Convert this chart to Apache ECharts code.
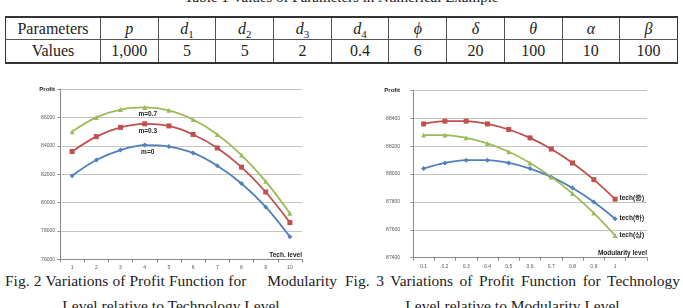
<!DOCTYPE html>
<html>
<head>
<meta charset="utf-8">
<script src="https://cdn.jsdelivr.net/npm/echarts@6/dist/echarts.min.js"></script>
<style>
    html, body { margin: 0; padding: 0; background: #fff; }
    body { width: 683px; height: 308px; position: relative; overflow: hidden; font-family: 'Liberation Serif', serif; color: #222; }
    .ttl { position: absolute; left: 0; top: -11px; width: 683px; text-align: center; font-size: 15px; }
    table.params { position: absolute; left: 5px; top: 16px; width: 673px; border-collapse: collapse; font-size: 16px;
        border-top: 2px solid #333; border-bottom: 2px solid #333; table-layout: fixed; }
    table.params td { border-left: 1px solid #555; border-right: 1px solid #555; text-align: center; padding: 0; line-height: 20px; }
    table.params tr:first-child td { border-bottom: 1px solid #555; height: 21px; }
    table.params tr:last-child td { height: 22px; }
    table.params td:first-child { border-left: 1px solid #333; width: 94px; }
    table.params td:last-child { border-right: 1px solid #333; }
    table.params sub { font-size: 11px; line-height: 0; }
    .cap { position: absolute; font-size: 15.5px; line-height: 20px; }
    .cap .l1 { text-align: justify; text-align-last: justify; white-space: nowrap; }
    .cap .l2 { text-align: center; margin-top: 5px; }
    #chart { position: absolute; left: 0; top: 0; width: 683px; height: 308px; }
</style>
</head>
<body>
<div class="ttl">Table 1 Values of Parameters in Numerical Example</div>
<table class="params">
    <tr>
        <td>Parameters</td><td><i>p</i></td><td><i>d</i><sub>1</sub></td><td><i>d</i><sub>2</sub></td>
        <td><i>d</i><sub>3</sub></td><td><i>d</i><sub>4</sub></td><td><i>ϕ</i></td><td><i>δ</i></td>
        <td><i>θ</i></td><td><i>α</i></td><td><i>β</i></td>
    </tr>
    <tr>
        <td>Values</td><td>1,000</td><td>5</td><td>5</td><td>2</td><td>0.4</td><td>6</td><td>20</td><td>100</td><td>10</td><td>100</td>
    </tr>
</table>
<div class="cap" style="left:5px;top:271px;width:332px;">
    <div class="l1">Fig. 2 Variations of Profit Function for&nbsp;&nbsp;&nbsp;&nbsp; Modularity</div>
    <div class="l2">Level relative to Technology Level</div>
</div>
<div class="cap" style="left:345px;top:271px;width:335px;">
    <div class="l1">Fig. 3 Variations of Profit Function for Technology</div>
    <div class="l2">Level relative to Modularity Level</div>
</div>
<div id="chart"></div>
<script type="text/javascript">
    // Fig. 2 : profit by technology level
    var techLevels = ['1', '2', '3', '4', '5', '6', '7', '8', '9', '10'];
    var profitM0  = [81900, 83000, 83700, 84050, 83950, 83500, 82600, 81350, 79700, 77600];
    var profitM03 = [83600, 84650, 85300, 85550, 85400, 84800, 83850, 82500, 80750, 78600];
    var profitM07 = [85000, 86000, 86550, 86700, 86500, 85850, 84800, 83350, 81500, 79250];
    var mNames = ['m=0', 'm=0.3', 'm=0.7'];

    // Fig. 3 : profit by modularity level (last category is an empty slot)
    var modLevels = ['0.1', '0.2', '0.3', '0.4', '0.5', '0.6', '0.7', '0.8', '0.9', '1', ''];
    var profitTechLow  = [88040, 88080, 88100, 88100, 88080, 88040, 87980, 87900, 87800, 87680];
    var profitTechMid  = [88360, 88380, 88380, 88360, 88320, 88260, 88180, 88080, 87960, 87820];
    var profitTechHigh = [88280, 88280, 88260, 88220, 88160, 88080, 87980, 87860, 87720, 87560];
    var techNames = ['tech(하)', 'tech(중)', 'tech(상)'];

    var blue = '#4F81BD', red = '#C0504D', green = '#9BBB59';
    var fontS = 'Liberation Sans';

    // put a label on one point of a series
    function withLabel(arr, idx, text, pos, offset) {
        return arr.map(function (v, i) {
            if (i !== idx) return v;
            return {
                value: v,
                label: {
                    show: true, formatter: text, position: pos, distance: 1, offset: offset || [0, 0],
                    fontFamily: fontS, fontSize: 6.5, fontWeight: 'bold', color: '#222'
                }
            };
        });
    }

    function yAxisFor(idx, min, max, step, margin) {
        return {
            gridIndex: idx, type: 'value', min: min, max: max, interval: step,
            axisLine: { show: true, lineStyle: { color: '#8a8a8a', width: 1 } },
            axisTick: { show: true, length: 2.5, lineStyle: { color: '#8a8a8a' } },
            splitLine: { lineStyle: { color: '#c4c4c4', width: 1 } },
            axisLabel: {
                margin: margin, fontFamily: fontS, fontSize: 5, color: '#555',
                formatter: function (v) { return v === max ? '{b|Profit}' : String(v); },
                rich: { b: { fontFamily: fontS, fontSize: 6, fontWeight: 'bold', color: '#222' } }
            }
        };
    }

    function xAxisFor(idx, cats, name) {
        return {
            gridIndex: idx, type: 'category', data: cats, boundaryGap: true,
            name: name, nameLocation: 'end', nameGap: 0,
            nameTextStyle: { fontFamily: fontS, fontSize: 6.5, fontWeight: 'bold', color: '#222',
                align: 'right', verticalAlign: 'bottom', padding: [0, 0, 1, 0] },
            axisLine: { show: true, lineStyle: { color: '#8a8a8a', width: 1 } },
            axisTick: { show: true, length: 3, lineStyle: { color: '#8a8a8a' } },
            splitLine: { show: false },
            axisLabel: { margin: 6, fontFamily: fontS, fontSize: 5, color: '#555', interval: 0 }
        };
    }

    function lineSeries(xi, name, color, symbol, size, data) {
        return {
            name: name, type: 'line', xAxisIndex: xi, yAxisIndex: xi,
            smooth: 0.35, symbol: symbol, symbolSize: size,
            lineStyle: { color: color, width: 1.8 },
            itemStyle: { color: color },
            data: data
        };
    }

    var chart = echarts.init(document.getElementById('chart'));
    var option = {
        animation: false,
        grid: [
            { left: 60, top: 89, width: 242, height: 170.5 },
            { left: 413, top: 90.5, width: 234, height: 167.2 }
        ],
        xAxis: [
            xAxisFor(0, techLevels, 'Tech. level'),
            xAxisFor(1, modLevels, 'Modularity level')
        ],
        yAxis: [
            yAxisFor(0, 76000, 88000, 2000, 5),
            yAxisFor(1, 87400, 88600, 200, 13)
        ],
        series: [
            lineSeries(0, mNames[0], blue, 'diamond', 5, withLabel(profitM0, 3, mNames[0], 'bottom', [3, 0])),
            lineSeries(0, mNames[1], red, 'rect', 5, withLabel(profitM03, 3, mNames[1], 'bottom', [3, 0])),
            lineSeries(0, mNames[2], green, 'triangle', 5, withLabel(profitM07, 3, mNames[2], 'bottom', [3, 0])),
            lineSeries(1, techNames[0], blue, 'diamond', 5, withLabel(profitTechLow, 9, techNames[0], 'right', [1, 0])),
            lineSeries(1, techNames[1], red, 'rect', 5, withLabel(profitTechMid, 9, techNames[1], 'right', [1, -1])),
            lineSeries(1, techNames[2], green, 'triangle', 5, withLabel(profitTechHigh, 9, techNames[2], 'right', [1, 0]))
        ]
    };
    chart.setOption(option);
</script>
</body>
</html>
